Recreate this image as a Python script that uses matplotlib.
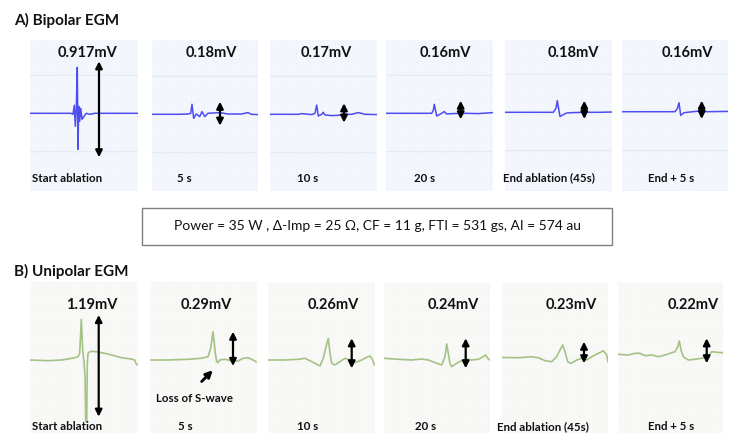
import numpy as np
import matplotlib
matplotlib.use("Agg")
import matplotlib.pyplot as plt
from matplotlib.patches import Rectangle, FancyArrowPatch

plt.rcParams['font.family'] = ['Lato', 'DejaVu Sans']

# ---- data (time samples, amplitude in display units) ----
time_labels = ["Start ablation", "5 s", "10 s", "20 s", "End ablation (45s)", "End + 5 s"]
bip_amp_labels = ["0.917mV", "0.18mV", "0.17mV", "0.16mV", "0.18mV", "0.16mV"]
uni_amp_labels = ["1.19mV", "0.29mV", "0.26mV", "0.24mV", "0.23mV", "0.22mV"]
params_text = "Power = 35 W , \u0394-Imp = 25 \u03a9, CF = 11 g, FTI = 531 gs, AI = 574 au"

bip_t = [
    [0, 41, 43, 44.3, 45.3, 46.3, 47.3, 48, 48.7, 49.7, 50.7, 52, 54, 56.3, 59.7, 64.7, 108],
    [0, 26, 36, 38.7, 40, 41.7, 44.3, 47.7, 50, 52.7, 56, 67.7, 76, 89.3, 96, 99.3, 106],
    [0, 28.3, 31.7, 41.7, 45, 46.7, 48.3, 51.7, 53.3, 55, 61.7, 68.3, 75, 81.7, 88.3, 95, 107],
    [0, 29, 45.7, 47.3, 48.3, 50.7, 54, 58.3, 60.7, 65.7, 79, 92.3, 107],
    [0, 28.3, 48.3, 51, 52.3, 55, 58.3, 61.7, 68.3, 81.7, 95, 107],
    [0, 28, 53, 55.3, 57, 58.7, 62, 68, 78, 84.7, 106],
]
bip_v = [
    [0, 0, -1, 8, -13, 5, 46, -36, 7, -8, 5, -6, -3, 0, -1, 0, 0],
    [0, 0, 0.3, 1, 10, -4, 0.3, -2.3, 2.7, -2.3, 1, 1.7, 0.3, 0.3, 1.7, 0, -0.3],
    [0, 0, 0.7, -0.3, 1, 9.3, -1.7, 0, 2, -0.7, -1.3, -1, 0, 0, 1.7, 0, -0.3],
    [0, 0, 0, 3, 9, -2.7, -1, 1.7, -0.7, -0.3, 0, -0.3, 0.7],
    [0, 0, 0, 4, 11.7, -4.3, -2.3, -0.7, -0.3, 0, 0, 0.3],
    [0, 0, 0, 3, 9, -3.7, -1, -0.3, 0.7, 0, 0.3],
]
uni_t = [
    [0, 18, 31.3, 38, 44.7, 48, 49.7, 51.3, 52.7, 54, 55, 55.7, 56.7, 57.3, 58, 59.7, 63, 68, 78,
     91.3, 101.3, 104.7, 106.3, 108],
    [0, 18, 38, 51.3, 58, 60.7, 63, 65.3, 66.7, 68, 69.7, 74.7, 78, 81.3, 88, 93, 98, 103, 106],
    [0, 17, 30.3, 37, 43.7, 52, 55.3, 58, 60.3, 62, 63.7, 67, 72, 77, 82, 87, 93.7, 98.7, 102,
     104.3, 106.5],
    [0, 14.3, 27.7, 37.7, 44.3, 51, 57.7, 61, 62.7, 64.3, 66, 67.7, 72.7, 77.7, 82.7, 87.7, 94.3,
     99.3, 101.7, 103.7, 106],
    [0, 16.3, 29.7, 36.3, 43, 49.7, 54.7, 58, 60.7, 63, 65.7, 69, 74.7, 79.7, 84.7, 89.7, 96.3,
     101.3, 104.7, 106],
    [0, 10.3, 17, 22, 27, 33.7, 40.3, 47, 52, 57, 59.7, 61.3, 63, 65.3, 70.3, 77, 83.7, 90.3, 93.7,
     98.7, 105],
]
uni_v = [
    [0, -0.7, 0, 1, 2.3, 3.3, 6.7, 40.7, 10, -1.7, -16.7, -61.7, -61.7, -3.3, 6.7, 8.3, 8.7, 8, 6,
     2.3, 1, 0, -4, -5],
    [0, 0, 0.7, 1.7, 3.3, 11.7, 28.3, 6.7, -1.7, -2.7, 0, 0.7, 0, -0.7, -1, 1.7, 2.3, 0, -1.7],
    [-0.7, -0.7, 0, 1, -2.3, -6.7, 1, 12.7, 21, 6, -4, -5.7, -2.3, 1, -0.7, -3.3, -0.7, 2, 3.3, 0,
     -5.7],
    [1, 0, -0.7, 0.3, -0.7, -3.3, -5.7, 2.7, 15.3, 6, -4, -7.3, -4, -1.3, 0, -0.7, 0, 2.7, 4.3, 1,
     -0.7],
    [0.3, 0, 1, 0, -3, -4, 1, 7.7, 12.7, 6, -4, -5.7, -2.3, -0.7, -2.3, 1, 4.3, 7, 2.7, -4],
    [0.7, 0, 1.7, 1.7, -0.7, 0, -1.7, 0, 1.7, 3.3, 8.3, 14, 5, -1.7, -5, -4.3, -3.3, -1, 3.3, 2.7,
     2.3],
]
# measurement arrows: (time, top, bottom)
bip_arrow = [(69, 52, -44), (68, 12.6, -11.4), (74, 11, -8.4), (74.7, 12.6, -6),
             (79.3, 11.6, -6.7), (79.7, 11, -7.3)]
uni_arrow = [(68.7, 45, -56.7), (83, 28.3, -6), (83.7, 21, -9), (81.7, 21, -9),
             (82, 16, -5.6), (88.7, 16.7, -8.3)]

# ---- layout (pixels) ----
W, H = 735, 433


def fx(x):
    return x / W


def fy(y):
    return 1 - y / H


fig = plt.figure(figsize=(W / 100, H / 100), dpi=100)
fig.patch.set_facecolor("white")

rows = [
    dict(lefts=[30, 152, 270, 386, 505, 622], rights=[138, 258, 377, 493, 612, 728],
         top=40, bottom=191, base=[113.3, 114.3, 114.3, 113.3, 112.3, 111.7],
         t=bip_t, v=bip_v, arrows=bip_arrow, amps=bip_amp_labels,
         amp_x=[87, 211.7, 326.7, 445, 573.8, 687.5], amp_y=53,
         lab_x=[32, 177, 297, 414, 502.7, 647.7], lab_y=178,
         bg="#f3f6fc", grid="#e8edf8", color="#4d4df2", lw=1.1),
    dict(lefts=[30, 150, 268, 384, 502, 618], rights=[138, 257, 375, 490, 608, 723],
         top=282, bottom=433, base=[360, 360, 359.3, 359.3, 357.7, 355],
         t=uni_t, v=uni_v, arrows=uni_arrow, amps=uni_amp_labels,
         amp_x=[91.3, 206.3, 333.3, 453.3, 571.7, 693.3], amp_y=305,
         lab_x=[32, 178, 297.3, 415, 497.3, 647.7], lab_y=426.5,
         bg="#f8f9f6", grid="#f0f1ec", color="#a4c285", lw=1.2),
]

for row in rows:
    for i in range(6):
        left, right = row["lefts"][i], row["rights"][i]
        w = right - left
        h = row["bottom"] - row["top"]
        base = row["base"][i]
        ylo, yhi = -(row["bottom"] - base), base - row["top"]
        ax = fig.add_axes([fx(left), fy(row["bottom"]), w / W, h / H])
        ax.set_facecolor(row["bg"])
        ax.set_xticks(np.arange(13, w, 13))
        ax.set_yticks(np.arange(-130, 130, 13))
        ax.set_xlim(0, w)
        ax.set_ylim(ylo, yhi)
        ax.grid(True, ls=":", lw=0.5, color=row["grid"])
        ax.tick_params(left=False, bottom=False, labelleft=False, labelbottom=False)
        for s in ax.spines.values():
            s.set_visible(False)
        if row is rows[0]:
            for yy in (38, -38):
                ax.axhline(yy, color="#e4ebf7", lw=0.8)
        ax.plot(row["t"][i], row["v"][i], color=row["color"], lw=row["lw"])
        at, atop, abot = row["arrows"][i]
        ax.annotate("", xy=(at, atop), xytext=(at, abot),
                    arrowprops=dict(arrowstyle="<|-|>", color="black", lw=1.6,
                                    mutation_scale=10, shrinkA=0, shrinkB=0))
        fig.text(fx(row["amp_x"][i]), fy(row["amp_y"]), row["amps"][i], ha="center",
                 va="center", fontsize=10.5, fontweight="bold", color="#111111")
        fig.text(fx(row["lab_x"][i]), fy(row["lab_y"]), time_labels[i], ha="left",
                 va="center", fontsize=8.3, fontweight="bold", color="#111111")

# section titles
fig.text(fx(14), fy(20), "A) Bipolar EGM", ha="left", va="center", fontsize=11,
         fontweight="bold", color="#111111")
fig.text(fx(14), fy(271), "B) Unipolar EGM", ha="left", va="center", fontsize=11,
         fontweight="bold", color="#111111")

# parameter box
fig.patches.append(Rectangle((fx(142), fy(245)), (612 - 142) / W, (245 - 208) / H,
                             transform=fig.transFigure, facecolor="white",
                             edgecolor="#7f7f7f", lw=1.0))
fig.text(fx(378), fy(226.5), params_text, ha="center", va="center", fontsize=10.0,
         color="#111111")

# "loss of S-wave" annotation
fig.text(fx(155.7), fy(398.5), "Loss of S-wave", ha="left", va="center", fontsize=8.3,
         fontweight="bold", color="#111111")
fig.add_artist(FancyArrowPatch(
    (fx(199.7), fy(383.5)), (fx(214.7), fy(368.3)), transform=fig.transFigure,
    arrowstyle="-|>", mutation_scale=10, lw=2.0, color="black"))

fig.savefig("out.png", dpi=100)
